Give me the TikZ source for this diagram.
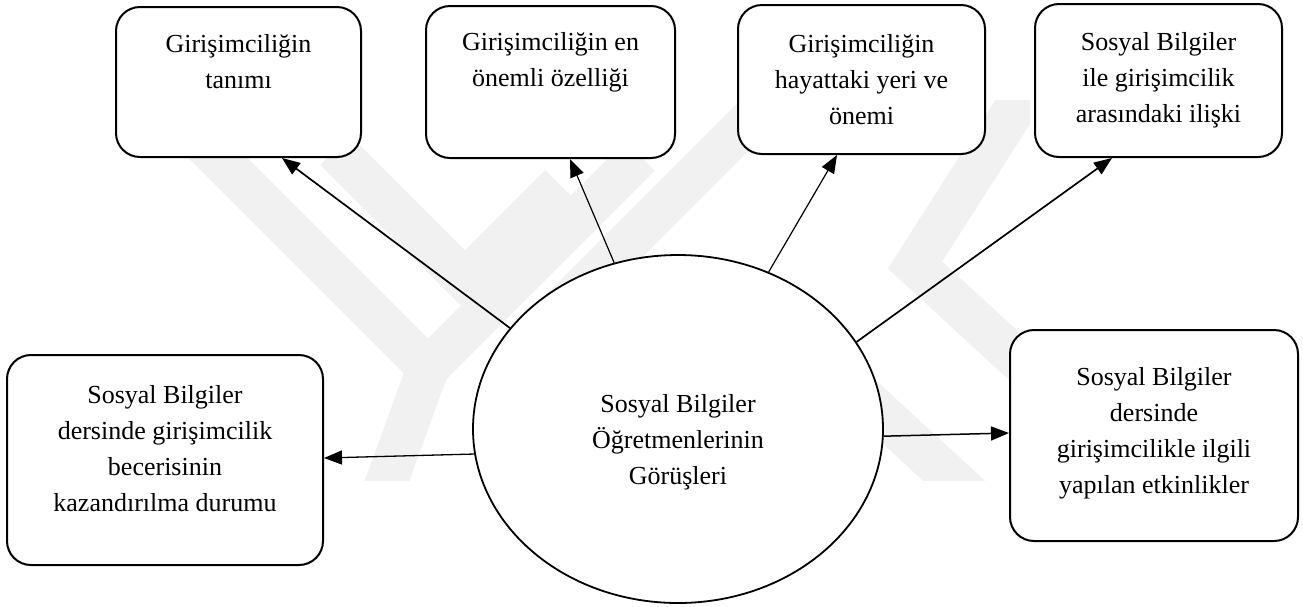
\documentclass[tikz,border=0pt]{standalone}
\usepackage{fontspec}
\setmainfont{Liberation Serif}
\usetikzlibrary{arrows.meta,shapes.geometric}
\newcommand\bxt[4]{\parbox[c][#2][t]{#1}{\centering\rule{0pt}{#3}#4}}
\definecolor{wm}{gray}{0.945}
\tikzset{
  box/.style={draw, fill=white, line width=2pt, rounded corners=24pt, inner sep=0pt},
  oval/.style={draw, fill=white, ellipse, line width=1.8pt, inner sep=0pt, minimum width=410pt, minimum height=348pt},
  lbl/.style={inner sep=0pt, anchor=north},
  conn/.style={line width=#1, -{Triangle[length=18pt,width=14pt]}},
  conn/.default=1.5pt,
  band/.style={draw=wm, line width=42pt, line join=miter, line cap=butt}
}
\begin{document}
\begin{tikzpicture}[x=1pt,y=-1pt,font=\fontsize{26pt}{36pt}\selectfont]
\useasboundingbox (0,0) rectangle (1303,606);
% watermark
\begin{scope}
\clip (140,100) rectangle (1030,480);
\draw[band] (195,135) -- (428,368) -- (640,156);
\draw[band] (428,368) -- (380,500);
\draw[band] (335,150) -- (465,280) -- (560,185);
\draw[band] (540,330) -- (760,110);
\draw[band] (1030,85) -- (915,265) -- (1040,380);
\draw[band] (850,385) -- (975,500);
\end{scope}
\node[box] (b1) at (238.5,82) {\bxt{245pt}{150pt}{45pt}{Girişimciliğin\\tanımı}};
\node[box] (b2) at (550.5,82) {\bxt{249pt}{152pt}{44pt}{Girişimciliğin en\\önemli özelliği}};
\node[box] (b3) at (861.5,79.5) {\bxt{247pt}{149pt}{47pt}{Girişimciliğin\\hayattaki yeri ve\\önemi}};
\node[box] (b4) at (1158.5,80.5) {\bxt{247pt}{153pt}{46pt}{Sosyal Bilgiler\\ile girişimcilik\\arasındaki ilişki}};
\node[box] (b5) at (165,460) {\bxt{316pt}{210pt}{48pt}{Sosyal Bilgiler\\dersinde girişimcilik\\becerisinin\\kazandırılma durumu}};
\node[box] (b6) at (1154,435.5) {\bxt{288pt}{211pt}{55pt}{Sosyal Bilgiler\\dersinde\\girişimcilikle ilgili\\yapılan etkinlikler}};
\node[oval] (c) at (678,429) {};
\node[lbl] (ct) at (678,367) {\bxt{320pt}{120pt}{45pt}{Sosyal Bilgiler\\Öğretmenlerinin\\Görüşleri}};
\draw[conn=1.7pt] (c.149.5) -- ([xshift=43.5pt]b1.south);
\draw[conn=1.2pt] (c.111.7) -- ([xshift=19.5pt]b2.south);
\draw[conn=1.2pt] (c.60.7) -- ([xshift=-24.5pt]b3.south);
\draw[conn=1.7pt] (c.26.2) -- ([xshift=-46.5pt]b4.south);
\draw[conn=1.3pt] (c.187.2) -- ([yshift=2pt]b5.east);
\draw[conn=1.5pt] (c.358.3) -- ([yshift=2.5pt]b6.west);
\end{tikzpicture}
\end{document}
